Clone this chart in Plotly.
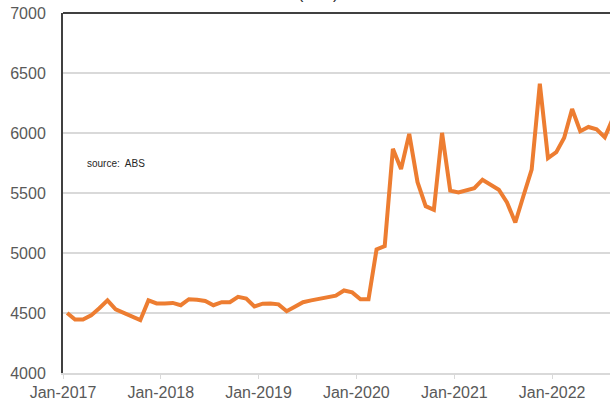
import pandas as pd
import plotly.graph_objects as go

# Monthly series, Jan-2017 onwards
values = [
    4500, 4445, 4445, 4480, 4540, 4605, 4530, 4500, 4465, 4440, 4605, 4580,
    4580, 4584, 4565, 4615, 4610, 4600, 4565, 4590, 4590, 4635, 4620, 4555,
    4578, 4580, 4572, 4515, 4553, 4590, 4605, 4618, 4632, 4645, 4688, 4672,
    4615, 4615, 5030, 5058, 5868, 5700, 5993, 5590, 5390, 5360, 6001, 5520,
    5505, 5525, 5540, 5611, 5566, 5527, 5421, 5254, 5477, 5694, 6410, 5790,
    5840, 5960, 6200, 6015, 6050, 6030, 5965, 6125,
]
months = pd.date_range("2017-01-01", periods=len(values), freq="MS")

title_text = "('000)"
source_text = "source:  ABS"

FONT = "Liberation Sans, Arial, sans-serif"
GRID = "#D9D9D9"
AXIS = "#404040"
TICKTXT = "#595959"

fig = go.Figure(
    go.Scatter(
        x=months,
        y=values,
        mode="lines",
        xperiod="M1",
        xperiodalignment="middle",
        line=dict(color="#ED7D31", width=4),
        hoverinfo="x+y",
    )
)

fig.update_layout(
    width=610,
    height=403,
    margin=dict(l=63, r=0, t=13, b=30),
    paper_bgcolor="white",
    plot_bgcolor="white",
    showlegend=False,
    font=dict(family=FONT, size=16, color=TICKTXT),
)

fig.update_xaxes(
    type="date",
    range=["2017-01-01", "2022-08-05"],
    tick0="2017-01-01",
    dtick="M12",
    tickformat="%b-%Y",
    showgrid=False,
    showline=True,
    linecolor=GRID,
    linewidth=2,
    ticks="outside",
    ticklen=4,
    tickcolor=GRID,
    tickfont=dict(family=FONT, size=16, color=TICKTXT),
)

fig.update_yaxes(
    range=[4000, 7000],
    dtick=500,
    showgrid=True,
    gridcolor=GRID,
    gridwidth=1.5,
    zeroline=False,
    showline=True,
    linecolor=AXIS,
    linewidth=2,
    ticks="",
    ticklabelstandoff=12,
    tickfont=dict(family=FONT, size=16, color=TICKTXT),
)

# top frame line
fig.add_shape(
    type="line", xref="paper", yref="paper",
    x0=0, x1=1, y0=1, y1=1,
    line=dict(color=AXIS, width=2),
)

fig.add_annotation(
    text=title_text, xref="paper", yref="paper",
    x=0.466, y=1, xanchor="center", yanchor="bottom", yshift=9,
    showarrow=False, font=dict(family=FONT, size=16, color="#262626"),
)

fig.add_annotation(
    text=source_text, xref="paper", yref="paper",
    x=0.04, y=0.583, xanchor="left", yanchor="middle",
    showarrow=False, font=dict(family=FONT, size=10, color="#262626"),
)

fig.write_html("out.html")
